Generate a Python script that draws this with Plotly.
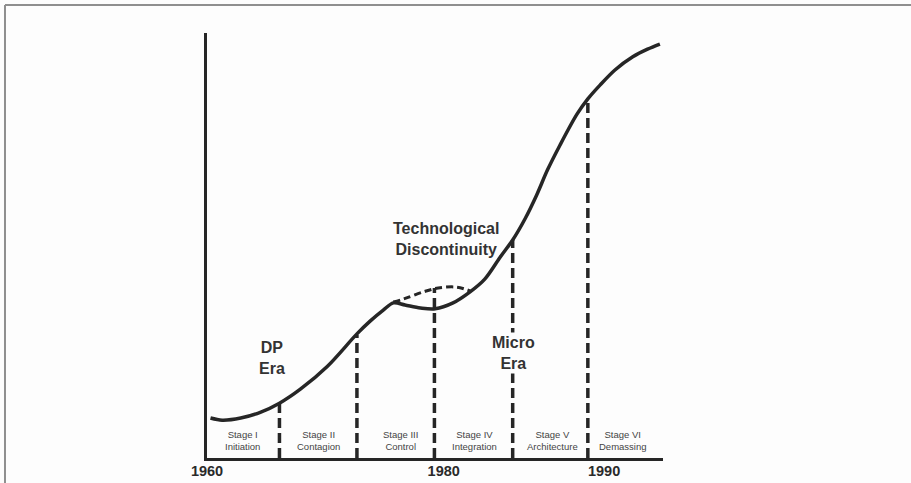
import plotly.graph_objects as go

# ---- data (x in "stage units", y in relative growth level 0-100) ----
curve_x = [0.11, 0.26, 0.50, 0.76, 1.00, 1.27, 1.62, 2.00, 2.17, 2.34, 2.47, 2.62, 2.82,
           3.01, 3.24, 3.46, 3.65, 3.85, 4.01, 4.17, 4.32, 4.46, 4.62, 4.84, 4.98, 5.14,
           5.33, 5.56, 5.75, 5.91]
curve_y = [9.4, 8.9, 9.4, 10.8, 12.9, 16.2, 21.6, 29.2, 32.2, 34.8, 36.5, 36.0, 35.3,
           35.1, 36.5, 39.1, 42.1, 47.3, 51.3, 56.3, 61.9, 67.8, 73.6, 80.9, 84.5, 87.8,
           91.3, 94.4, 96.2, 97.4]

hump_x = [2.47, 2.60, 2.86, 3.05, 3.29, 3.46]
hump_y = [36.7, 37.4, 39.1, 40.0, 40.2, 39.3]

stage_bounds = [1.00, 2.00, 3.00, 4.01, 4.98]
bound_tops = [12.9, 29.0, 40.0, 51.3, 84.5]

stage_x = [0.52, 1.50, 2.56, 3.52, 4.52, 5.43]
stage_names = ["Stage I", "Stage II", "Stage III", "Stage IV", "Stage V", "Stage VI"]
stage_desc = ["Initiation", "Contagion", "Control", "Integration", "Architecture", "Demassing"]

year_pos = [0.065, 3.12, 5.19]
year_text = ["1960", "1980", "1990"]

labels_text = ["DP<br>Era", "Technological<br>Discontinuity", "Micro<br>Era"]
labels_x = [0.91, 3.15, 4.02]
labels_y = [23.6, 51.6, 24.8]
labels_mask = [False, False, True]

INK = "#262626"
BG = "#fdfdfd"

fig = go.Figure()

# vertical dashed stage boundaries
vx, vy = [], []
for xb, top in zip(stage_bounds, bound_tops):
    vx += [xb, xb, None]
    vy += [0, top, None]
fig.add_trace(go.Scatter(x=vx, y=vy, mode="lines",
                         line=dict(color=INK, width=3.5, dash="10px,5px"),
                         hoverinfo="skip", showlegend=False))

# dashed hump (technological discontinuity)
fig.add_trace(go.Scatter(x=hump_x, y=hump_y, mode="lines",
                         line=dict(color=INK, width=3, dash="7px,4px", shape="spline"),
                         hoverinfo="skip", showlegend=False))

# main growth curve
fig.add_trace(go.Scatter(x=curve_x, y=curve_y, mode="lines",
                         line=dict(color=INK, width=3.5, shape="spline", smoothing=0.9),
                         hoverinfo="skip", showlegend=False))

annotations = []
for t, x, y, m in zip(labels_text, labels_x, labels_y, labels_mask):
    annotations.append(dict(x=x, y=y, text=t, showarrow=False, xanchor="center",
                            yanchor="middle",
                            bgcolor=BG if m else "rgba(0,0,0,0)", borderpad=1,
                            font=dict(family="Liberation Sans, Arial", size=16,
                                      color="#333333", weight="bold")))
for sx, n, d in zip(stage_x, stage_names, stage_desc):
    annotations.append(dict(x=sx, y=4.1, text=n + "<br>" + d, showarrow=False,
                            xanchor="center", yanchor="middle",
                            font=dict(family="Liberation Sans, Arial", size=9.5,
                                      color="#444444")))

shapes = [
    dict(type="line", xref="paper", yref="paper", x0=-0.443, x1=1.6, y0=1.066, y1=1.066,
         line=dict(color="#8f8f8f", width=2)),
    dict(type="line", xref="paper", yref="paper", x0=-0.443, x1=-0.443, y0=1.066, y1=-0.06,
         line=dict(color="#8f8f8f", width=2)),
]

fig.update_layout(
    width=911, height=483,
    margin=dict(l=206.5, r=247.8, t=33, b=25, autoexpand=False),
    paper_bgcolor=BG, plot_bgcolor="rgba(0,0,0,0)",
    showlegend=False,
    annotations=annotations,
    shapes=shapes,
    xaxis=dict(range=[0.065, 5.95], showgrid=False, zeroline=False, automargin=False,
               showline=True, linecolor=INK, linewidth=2.5,
               tickmode="array", tickvals=year_pos, ticktext=year_text,
               ticks="", ticklen=0, ticklabelstandoff=-2,
               tickfont=dict(family="Liberation Sans, Arial", size=14.5, color="#2a2a2a",
                             weight="bold")),
    yaxis=dict(range=[0, 100], showgrid=False, zeroline=False, automargin=False,
               showline=True, linecolor=INK, linewidth=2.5,
               showticklabels=False, ticks=""),
)

fig.write_html("out.html", config={"displayModeBar": False},
               post_script="document.body.style.margin='0';document.body.style.overflow='hidden';")
